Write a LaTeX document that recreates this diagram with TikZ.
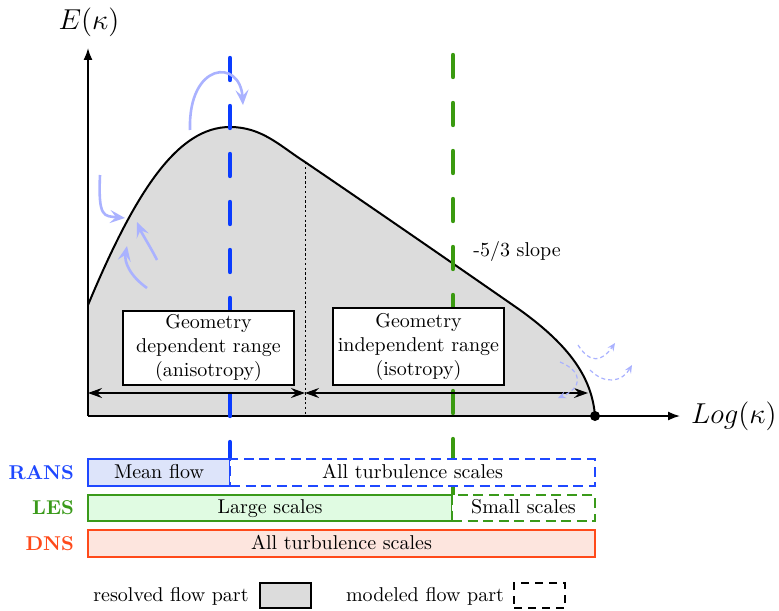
\documentclass[tikz,border=0pt]{standalone}
\usetikzlibrary{arrows.meta}
\definecolor{fillgrey}{HTML}{DCDCDC}
\definecolor{ransblue}{HTML}{1F48FF}
\definecolor{ransfill}{HTML}{DDE4FA}
\definecolor{lesgreen}{HTML}{3A9A1A}
\definecolor{lesfill}{HTML}{E0FBE2}
\definecolor{dnsred}{HTML}{FF4A1A}
\definecolor{dnsfill}{HTML}{FDE5DE}
\definecolor{swirl}{HTML}{AAB2FF}
\definecolor{bluedash}{HTML}{0A3CFF}
\definecolor{greendash}{HTML}{3A9A10}
\tikzset{
  axisline/.style={line width=0.8pt, -{Latex[length=6pt,width=4.5pt]}},
  curveline/.style={line width=1pt},
  cutline/.style={line width=2.2pt, line cap=round, dash pattern=on 11pt off 13pt},
  dotline/.style={line width=0.5pt, dash pattern=on 1.2pt off 1.2pt},
  rangebox/.style={draw, fill=white, line width=0.6pt, align=center, inner sep=1pt},
  rangearrow/.style={line width=0.6pt, {Stealth[length=7pt,width=5pt,inset=2.5pt]}-{Stealth[length=7pt,width=5pt,inset=2.5pt]}},
  bar/.style={draw, line width=1.1pt, minimum height=13.5pt, inner sep=0pt, text height=1.6ex, text depth=0.3ex},
  method/.style={anchor=east, font=\bfseries},
  swirlarrow/.style={swirl, line width=1.3pt, -{Stealth[length=7.5pt,width=6.5pt,inset=3pt]}},
  smallswirl/.style={swirl, line width=0.6pt, dash pattern=on 2pt off 1.5pt, -{Stealth[length=4pt,width=3.5pt,inset=1.5pt]}},
  legendbox/.style={draw, line width=1pt, minimum width=25.5pt, minimum height=12.5pt, inner sep=0pt}
}
\begin{document}
\begin{tikzpicture}[x=0.5pt, y=-0.5pt]
\useasboundingbox (0,0) rectangle (779,610);
% coordinates
\coordinate (O) at (88,416);
\coordinate (ytop) at (88,48);
\coordinate (xtop) at (680,416);
\coordinate (split) at (305,162);
\coordinate (splitbase) at (305,416);
\coordinate (endpt) at (595,416);
\coordinate (blueTop) at (230,58);
\coordinate (blueBot) at (230,472);
\coordinate (greenTop) at (453,55);
\coordinate (greenBot) at (453,515);
\coordinate (ra) at (88,393);
\coordinate (rb) at (305,393);
\coordinate (rc) at (588,393);
% spectrum fill
\fill[fillgrey] (O) -- (88,305) .. controls (136,190) and (178,127) .. (230,127)
  .. controls (262,127) and (280,146) .. (split)
  .. controls (377,211) and (448,260) .. (520,310)
  .. controls (570,346) and (592,378) .. (endpt) -- cycle;
% axes
\draw[axisline] (O) -- (ytop);
\draw[axisline] (O) -- (xtop);
% curve
\draw[curveline] (88,305) .. controls (136,190) and (178,127) .. (230,127)
  .. controls (262,127) and (280,146) .. (split)
  .. controls (377,211) and (448,260) .. (520,310)
  .. controls (570,346) and (592,378) .. (endpt);
\draw[dotline] (split) -- (splitbase);
% cut-off lines
\draw[cutline, bluedash] (blueTop) -- (blueBot);
\draw[cutline, greendash] (greenTop) -- (greenBot);
% range boxes
\node[rangebox, minimum width=85.5pt, minimum height=37pt] (geodep) at (208.5,348)
  {Geometry\\dependent range\\(anisotropy)};
\node[rangebox, minimum width=85.5pt, minimum height=38.5pt] (geoindep) at (418.5,346.5)
  {Geometry\\independent range\\(isotropy)};
\draw[rangearrow] (ra) -- (rb);
\draw[rangearrow] (rb) -- (rc);
\fill (endpt) circle (2.5pt);
% swirls
\draw[swirlarrow] (190,130) .. controls (188,62) and (240,58) .. (243,105);
\draw[swirlarrow] (100,175) .. controls (98,218) and (104,216) .. (125,218);
\draw[swirlarrow] (157,260) .. controls (150,246) and (142,234) .. (137,222);
\draw[swirlarrow] (147,288) .. controls (130,276) and (124,262) .. (127,246);
\draw[smallswirl] (578,345) .. controls (590,364) and (602,362) .. (615,343);
\draw[smallswirl] (590,370) .. controls (605,385) and (622,382) .. (632,365);
\draw[smallswirl] (560,362) .. controls (584,372) and (582,388) .. (558,398);
% labels
\node[font=\Large] (ylabel) at (89,22) {$E(\kappa)$};
\node[font=\Large, anchor=west] (xlabel) at (684,416) {$Log(\kappa)$};
\node (slope) at (517,251) {-5/3 slope};
% method bars
\node[bar, ransblue, fill=ransfill, text=black, minimum width=71pt] (ransres) at (159,472.5) {Mean flow};
\node[bar, ransblue, fill=white, text=black, dash pattern=on 5pt off 2.8pt, minimum width=182.5pt] (ransmod) at (412.5,472.5) {All turbulence scales};
\node[bar, lesgreen, fill=lesfill, text=black, minimum width=182pt, minimum height=13pt] (lesres) at (270,508) {Large scales};
\node[bar, lesgreen, fill=white, text=black, dash pattern=on 5pt off 2.8pt, minimum width=71.5pt, minimum height=13pt] (lesmod) at (523.5,508) {Small scales};
\node[bar, dnsred, fill=dnsfill, text=black, minimum width=253.5pt] (dnsres) at (341.5,543.5) {All turbulence scales};
\node[method, ransblue] (rans) at (81,472.5) {RANS};
\node[method, lesgreen] (les) at (81,508) {LES};
\node[method, dnsred] (dns) at (81,543.5) {DNS};
% legend
\node (reslabel) at (171,596) {resolved flow part};
\node[legendbox, fill=fillgrey] (resbox) at (285.5,595.5) {};
\node (modlabel) at (425,596) {modeled flow part};
\node[legendbox, dash pattern=on 4pt off 3pt] (modbox) at (539.5,595.5) {};
\end{tikzpicture}
\end{document}
